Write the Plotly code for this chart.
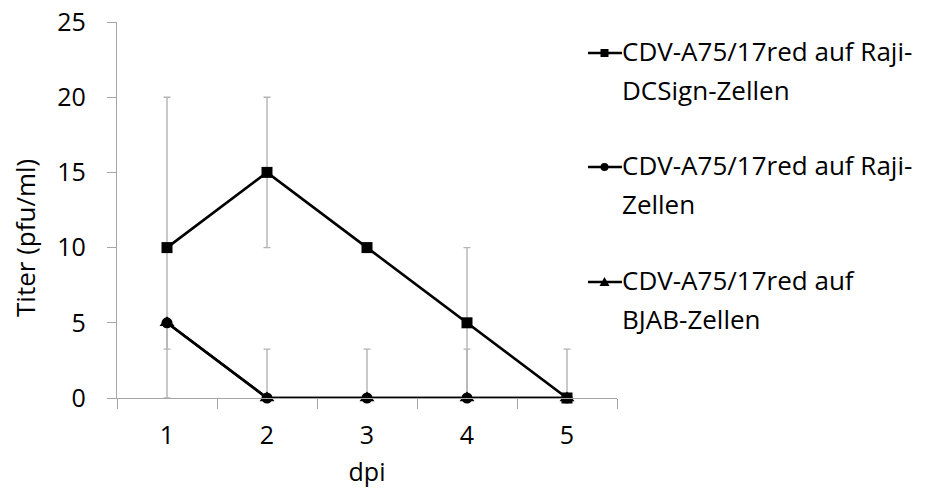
import plotly.graph_objects as go

# Data: virus titer over days post infection
dpi = ["1", "2", "3", "4", "5"]

series_names = [
    ["CDV-A75/17red auf Raji-", "DCSign-Zellen"],
    ["CDV-A75/17red auf Raji-", "Zellen"],
    ["CDV-A75/17red auf", "BJAB-Zellen"],
]

raji_dcsign = [10, 15, 10, 5, 0]
raji_dcsign_err_plus = [10, 5, 0, 5, 0]
raji_dcsign_err_minus = [10, 5, 0, 5, 0]

raji = [5, 0, 0, 0, 0]
raji_err_plus = [0, 3.25, 3.25, 3.25, 3.25]
raji_err_minus = [1.75, 0, 0, 0, 0]

bjab = [5, 0, 0, 0, 0]
bjab_err_plus = [0, 0, 0, 0, 0]
bjab_err_minus = [0, 0, 0, 0, 0]

y_ticks = [0, 5, 10, 15, 20, 25]

FONT = "Open Sans"
TXT = "#000000"
AX = "#a6a6a6"
ERR = "#b3b3b3"

symbols = ["square", "circle", "triangle-up"]
marker_sizes = [11, 11, 13]
values = [raji_dcsign, raji, bjab]
eplus = [raji_dcsign_err_plus, raji_err_plus, bjab_err_plus]
eminus = [raji_dcsign_err_minus, raji_err_minus, bjab_err_minus]

fig = go.Figure()
for name, sym, ms, v, ep, em in zip(series_names, symbols, marker_sizes, values, eplus, eminus):
    fig.add_trace(go.Scatter(
        x=dpi, y=v, name=" ".join(name), mode="lines+markers",
        line=dict(color="black", width=2.6),
        marker=dict(symbol=sym, size=ms, color="black"),
        error_y=dict(type="data", array=ep, arrayminus=em, symmetric=False,
                     color=ERR, thickness=1.4, width=3.5),
        showlegend=False, cliponaxis=False,
    ))

# plot area in pixels
L, R, T, B = 117, 617, 22, 398
W, H = 927, 491


def px(xp):
    return (xp - L) / (R - L)


def py(yp):
    return 1 - (yp - T) / (B - T)


# hand-built legend: symbol + two text lines per entry
first_line_y = [51, 165, 280]
line_gap = 39
shapes = []
annotations = []
for i, (name, sym) in enumerate(zip(series_names, symbols)):
    y0 = first_line_y[i]
    ysym = y0 + 2
    shapes.append(dict(type="line", xref="paper", yref="paper",
                       x0=px(588), x1=px(622), y0=py(ysym), y1=py(ysym),
                       line=dict(color="black", width=2.4)))
    cx, s = 604.5, 4
    if sym == "square":
        shapes.append(dict(type="rect", xref="paper", yref="paper",
                           x0=px(cx - s), x1=px(cx + s), y0=py(ysym - s), y1=py(ysym + s),
                           fillcolor="black", line=dict(width=0)))
    elif sym == "circle":
        shapes.append(dict(type="circle", xref="paper", yref="paper",
                           x0=px(cx - s), x1=px(cx + s), y0=py(ysym - s), y1=py(ysym + s),
                           fillcolor="black", line=dict(width=0)))
    else:
        path = "M {} {} L {} {} L {} {} Z".format(
            px(cx - s - 1), py(ysym + s), px(cx + s + 1), py(ysym + s), px(cx), py(ysym - s - 1))
        shapes.append(dict(type="path", xref="paper", yref="paper", path=path,
                           fillcolor="black", line=dict(width=0)))
    for j, line in enumerate(name):
        annotations.append(dict(
            text=line, xref="paper", yref="paper", x=px(620), y=py(y0 + j * line_gap),
            xanchor="left", yanchor="middle", showarrow=False,
            font=dict(family=FONT, size=26, color=TXT)))

# y-axis title, placed a little below the plot's vertical centre
annotations.append(dict(
    text="Titer (pfu/ml)", xref="paper", yref="paper", x=px(25), y=py(238),
    xanchor="center", yanchor="middle", textangle=-90, showarrow=False,
    font=dict(family=FONT, size=26, color=TXT)))

fig.update_layout(
    width=W, height=H,
    margin=dict(l=L, r=W - R, t=T, b=H - B, autoexpand=False),
    paper_bgcolor="white", plot_bgcolor="white",
    font=dict(family=FONT, size=25, color=TXT),
    shapes=shapes, annotations=annotations,
    xaxis=dict(
        type="category", range=[-0.5, 4.5], tickson="boundaries",
        automargin=False,
        showline=True, linecolor=AX, linewidth=1.3,
        ticks="outside", ticklen=10, tickcolor=AX, tickwidth=1.3,
        showgrid=False, zeroline=False,
        ticklabelstandoff=15,
        tickfont=dict(family=FONT, size=25, color=TXT),
        title=dict(text="dpi", font=dict(family=FONT, size=25, color=TXT), standoff=13),
    ),
    yaxis=dict(
        range=[0, 25], tickvals=y_ticks,
        automargin=False,
        showline=True, linecolor=AX, linewidth=1.3,
        ticks="outside", ticklen=9, tickcolor=AX, tickwidth=1.3,
        showgrid=False, zeroline=False,
        ticklabelstandoff=16,
        tickfont=dict(family=FONT, size=25, color=TXT),
    ),
)

fig.write_html("out.html")
